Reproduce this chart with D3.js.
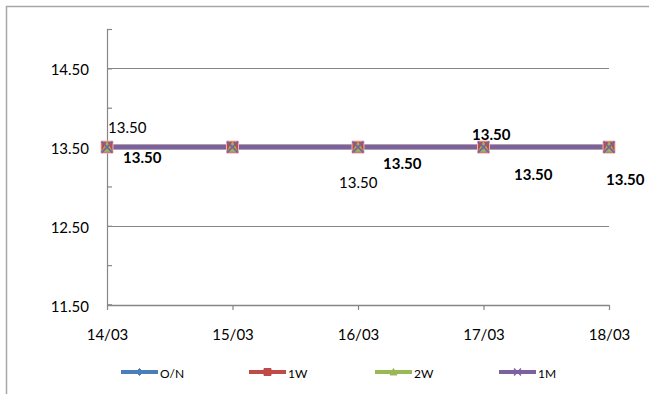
<!DOCTYPE html>
<html>
<head>
<meta charset="utf-8">
<script src="https://cdn.jsdelivr.net/npm/d3@7"></script>
<style>
  html, body { margin: 0; padding: 0; background: #fff; }
  svg { display: block; font-family: Lato, "Open Sans", sans-serif; }
</style>
</head>
<body>
<svg id="chart" width="649" height="394"></svg>
<script>
// Money-market rates by tenor, daily
const dates = ["14/03", "15/03", "16/03", "17/03", "18/03"];
const tenors = ["O/N", "1W", "2W", "1M"];
const rateON = [13.50, 13.50, 13.50, 13.50, 13.50];
const rate1W = [13.50, 13.50, 13.50, 13.50, 13.50];
const rate2W = [13.50, 13.50, 13.50, 13.50, 13.50];
const rate1M = [13.50, 13.50, 13.50, 13.50, 13.50];
const yLabelTicks = [11.50, 12.50, 13.50, 14.50];
const yMinorTicks = [11.50, 12.00, 12.50, 13.00, 13.50, 14.00, 14.50, 15.00];

const seriesValues = [rateON, rate1W, rate2W, rate1M];
const colors = ["#4a7ebb", "#be4b48", "#98b954", "#7d60a0"];
const markers = ["diamond", "square", "triangle", "cross"];
const markerSizes = [11, 12, 10, 11];

// Value labels: which series / day, weight and offset from the point
const valueLabels = [
  { s: 0, i: 0, bold: false, dx: 1,    dy: -20 },
  { s: 1, i: 0, bold: true,  dx: 16,   dy: 10 },
  { s: 1, i: 2, bold: true,  dx: 25,   dy: 16 },
  { s: 0, i: 2, bold: false, dx: -19,  dy: 35 },
  { s: 2, i: 3, bold: true,  dx: -11.5, dy: -13 },
  { s: 1, i: 3, bold: true,  dx: 30.5, dy: 27 },
  { s: 1, i: 4, bold: true,  dx: -3,   dy: 32 }
];

const svg = d3.select("#chart");

// outer chart frame
svg.append("rect")
  .attr("x", 6.5).attr("y", 6.5)
  .attr("width", 700).attr("height", 450)
  .attr("fill", "none").attr("stroke", "#a6a6a6").attr("stroke-width", 1.5);

const x = d3.scalePoint().domain(dates).range([107, 609]);
const y = d3.scaleLinear().domain([11.5, 15.0]).range([304.5, 29]);

// horizontal gridlines
svg.append("g").selectAll("line")
  .data(yLabelTicks.filter(v => v > 11.5))
  .join("line")
  .attr("x1", 107).attr("x2", 609)
  .attr("y1", d => Math.round(y(d)) + 0.5).attr("y2", d => Math.round(y(d)) + 0.5)
  .attr("stroke", "#868686").attr("stroke-width", 1);

// y axis with inward tick marks
const yAxis = svg.append("g").attr("transform", "translate(107,0)")
  .call(d3.axisRight(y).tickValues(yMinorTicks).tickSize(5).tickFormat(""));
yAxis.select(".domain").attr("stroke", "#868686").attr("stroke-width", 1.2);
yAxis.selectAll(".tick line").attr("stroke", "#868686").attr("stroke-width", 1.2);

svg.append("g").selectAll("text")
  .data(yLabelTicks)
  .join("text")
  .attr("x", 89).attr("y", d => y(d) + 1)
  .attr("text-anchor", "end").attr("dominant-baseline", "central")
  .attr("font-size", 15).attr("fill", "#000")
  .text(d => d.toFixed(2));

// x axis
const xAxis = svg.append("g").attr("transform", "translate(0,305)")
  .call(d3.axisBottom(x).tickSize(5).tickSizeOuter(0).tickPadding(19));
xAxis.select(".domain").attr("stroke", "#868686").attr("stroke-width", 1.5);
xAxis.selectAll(".tick line").attr("stroke", "#868686").attr("stroke-width", 1.2);
xAxis.selectAll(".tick text").attr("font-size", 15).attr("fill", "#000")
  .attr("font-family", "Lato, 'Open Sans', sans-serif");

const symbolPath = (kind, size) => {
  const h = size / 2;
  if (kind === "diamond") return `M0,${-h}L${h},0L0,${h}L${-h},0Z`;
  if (kind === "square") return `M${-h},${-h}H${h}V${h}H${-h}Z`;
  if (kind === "triangle") return `M0,${-h}L${h},${h * 0.85}L${-h},${h * 0.85}Z`;
  return `M${-h},${-h}L${h},${h}M${h},${-h}L${-h},${h}`;
};

const line = d3.line().x((d, i) => x(dates[i])).y(d => y(d));

// series lines
svg.append("g").selectAll("path")
  .data(seriesValues)
  .join("path")
  .attr("d", d => line(d))
  .attr("fill", "none")
  .attr("stroke", (d, s) => colors[s])
  .attr("stroke-width", 4.5);

// series markers
seriesValues.forEach((vals, s) => {
  svg.append("g").selectAll("path")
    .data(vals)
    .join("path")
    .attr("transform", (d, i) => `translate(${x(dates[i])},${y(d)})`)
    .attr("d", symbolPath(markers[s], markerSizes[s]))
    .attr("fill", markers[s] === "cross" ? "none" : colors[s])
    .attr("stroke", markers[s] === "square" ? "#e6b9b8" : colors[s])
    .attr("stroke-width", markers[s] === "cross" ? 1.8 : 1);
});

// value labels
svg.append("g").selectAll("text")
  .data(valueLabels)
  .join("text")
  .attr("x", d => x(dates[d.i]) + d.dx)
  .attr("y", d => y(seriesValues[d.s][d.i]) + d.dy)
  .attr("dominant-baseline", "central")
  .attr("font-size", 15)
  .attr("font-weight", d => d.bold ? "bold" : "normal")
  .attr("fill", "#000")
  .text(d => seriesValues[d.s][d.i].toFixed(2));

// legend
const legendX = [121, 249, 375, 499];
const legend = svg.append("g").selectAll("g")
  .data(tenors)
  .join("g")
  .attr("transform", (d, s) => `translate(${legendX[s]},372)`);
legend.append("line")
  .attr("x1", 0).attr("x2", 37).attr("y1", 0).attr("y2", 0)
  .attr("stroke", (d, s) => colors[s]).attr("stroke-width", 4);
legend.append("path")
  .attr("transform", "translate(18.5,0)")
  .attr("d", (d, s) => symbolPath(markers[s], 7))
  .attr("fill", (d, s) => markers[s] === "cross" ? "none" : colors[s])
  .attr("stroke", (d, s) => colors[s])
  .attr("stroke-width", (d, s) => markers[s] === "cross" ? 1.4 : 1);
legend.append("text")
  .attr("x", 39).attr("y", 1)
  .attr("dominant-baseline", "central")
  .attr("font-size", 12).attr("fill", "#000")
  .text(d => d);
</script>
</body>
</html>
